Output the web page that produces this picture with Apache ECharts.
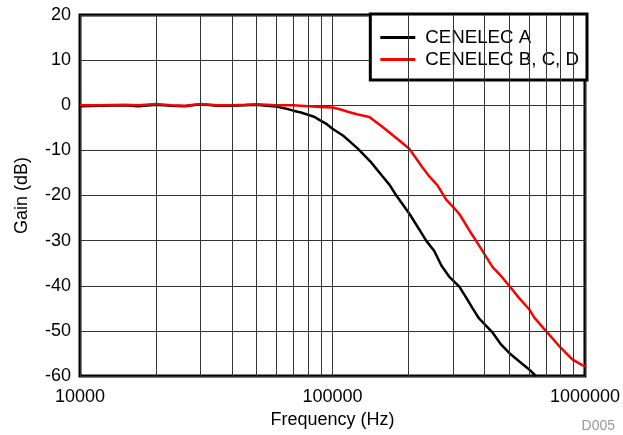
<!DOCTYPE html>
<html><head><meta charset="utf-8">
<script src="https://cdn.jsdelivr.net/npm/echarts@6/dist/echarts.min.js"></script>
<style>html,body{margin:0;padding:0;background:#fff}#c{width:623px;height:435px}</style>
</head><body><div id="c"></div>
<script>
const xTicks = [10000, 100000, 1000000];
const yTicks = [-60, -50, -40, -30, -20, -10, 0, 10, 20];
const minorFreqs = [20000, 30000, 40000, 50000, 60000, 70000, 80000, 90000,
  200000, 300000, 400000, 500000, 600000, 700000, 800000, 900000];

const seriesNames = ['CENELEC A', 'CENELEC B, C, D'];

const aFreq = [10000, 12000, 15000, 17000, 20000, 23000, 26000, 30000, 35000, 40000, 45000, 50000, 55000, 60000, 65000, 70000, 75000, 80000, 85000, 89000, 95000, 100000, 110000, 117000, 126000, 142000, 158000, 168000, 179000, 202000, 225000, 235000, 253000, 270000, 291000, 318000, 340000, 359000, 380000, 400000, 431000, 465000, 501000, 550000, 611000, 639000];
const aGain = [-0.2, -0.1, 0, -0.2, 0.1, -0.1, -0.2, 0.2, -0.1, -0.1, 0, 0.1, -0.1, -0.3, -0.7, -1.2, -1.6, -2.1, -2.6, -3.3, -4.2, -5.2, -6.7, -8.0, -9.6, -12.6, -15.8, -17.6, -20.0, -24.1, -28.3, -30.0, -32.3, -35.5, -38.1, -40.2, -42.8, -45.0, -47.2, -48.5, -50.4, -53.0, -54.9, -56.8, -58.9, -60];

const bFreq = [10000, 12000, 15000, 17000, 20000, 23000, 26000, 30000, 35000, 40000, 45000, 50000, 55000, 60000, 70000, 80000, 90000, 100000, 107000, 116000, 125000, 140000, 158000, 184000, 201000, 217000, 228000, 243000, 261000, 282000, 300000, 318000, 349000, 375000, 400000, 430000, 458000, 501000, 550000, 601000, 629000, 700000, 789000, 891000, 975000, 1000000];
const bGain = [0, 0, 0.1, 0, 0.3, 0, -0.1, 0.3, 0, 0, 0.1, 0.2, 0.1, 0, 0, -0.2, -0.4, -0.5, -0.9, -1.5, -2.0, -2.6, -4.8, -7.8, -9.6, -12.2, -13.9, -15.9, -17.8, -20.9, -22.5, -24.1, -27.8, -30.5, -33.0, -35.8, -37.4, -40.0, -42.8, -45.2, -47.0, -50.0, -53.3, -56.3, -57.6, -57.8];

const pair = (xs, ys) => xs.map((x, i) => [x, ys[i]]);
const FONT = 'Liberation Sans, Arial, Helvetica, sans-serif';

const chart = echarts.init(document.getElementById('c'), null, {renderer: 'canvas'});
chart.setOption({
  animation: false,
  backgroundColor: '#fff',
  textStyle: {fontFamily: FONT},
  grid: {left: 80, right: 37, top: 15, bottom: 59, show: true, borderColor: '#000', borderWidth: 3, backgroundColor: 'transparent', containLabel: false},
  legend: {
    data: seriesNames.map(n => ({name: n, icon: 'rect'})),
    orient: 'vertical', right: 36, top: 14,
    itemWidth: 35, itemHeight: 3, itemGap: 3,
    backgroundColor: '#fff', borderColor: '#000', borderWidth: 3,
    padding: [14, 8, 11, 10],
    textStyle: {fontFamily: FONT, fontSize: 18.7, color: '#000', padding: [0, 0, 0, 5]}
  },
  xAxis: {
    type: 'log', logBase: 10, min: xTicks[0], max: xTicks[xTicks.length - 1],
    name: 'Frequency (Hz)', nameLocation: 'middle', nameGap: 32,
    nameTextStyle: {fontFamily: FONT, fontSize: 18, color: '#000'},
    axisLine: {show: false}, axisTick: {show: false},
    axisLabel: {fontFamily: FONT, fontSize: 18, color: '#000', margin: 12, formatter: v => String(v)},
    splitLine: {show: true, lineStyle: {color: '#333', width: 1}}
  },
  yAxis: {
    type: 'value', min: yTicks[0], max: yTicks[yTicks.length - 1], interval: 10,
    name: 'Gain (dB)', nameLocation: 'middle', nameGap: 49,
    nameTextStyle: {fontFamily: FONT, fontSize: 18, color: '#000'},
    axisLine: {show: false}, axisTick: {show: false},
    axisLabel: {fontFamily: FONT, fontSize: 18, color: '#000', margin: 9},
    splitLine: {show: true, lineStyle: {color: '#333', width: 1}}
  },
  graphic: [{
    type: 'text', right: 8, bottom: 2,
    style: {text: 'D005', fontFamily: FONT, fontSize: 14, fill: '#999'}
  }],
  series: [
    {
      name: '_grid', type: 'line', data: [], silent: true, z: 1,
      markLine: {
        silent: true, symbol: 'none', animation: false,
        label: {show: false},
        lineStyle: {color: '#333', width: 1, type: 'solid'},
        data: minorFreqs.map(f => ({xAxis: f}))
      }
    },
    {
      name: seriesNames[0], type: 'line', data: pair(aFreq, aGain), showSymbol: false, symbol: 'none',
      lineStyle: {color: '#000', width: 2.5}, itemStyle: {color: '#000'}, z: 3
    },
    {
      name: seriesNames[1], type: 'line', data: pair(bFreq, bGain), showSymbol: false, symbol: 'none',
      lineStyle: {color: '#ff0000', width: 2.5}, itemStyle: {color: '#ff0000'}, z: 3
    }
  ]
});
</script>
</body></html>
